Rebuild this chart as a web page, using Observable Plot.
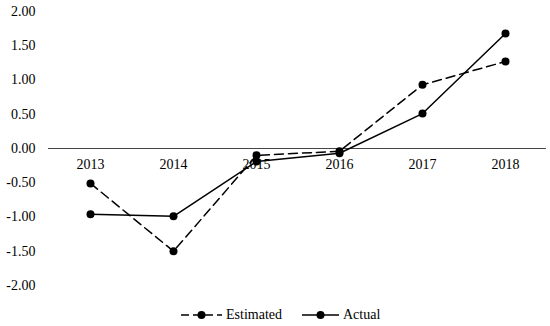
<!DOCTYPE html>
<html><head><meta charset="utf-8">
<script src="https://cdn.jsdelivr.net/npm/d3@7"></script>
<script src="https://cdn.jsdelivr.net/npm/@observablehq/plot@0.6"></script>
<style>
body{margin:0;background:#fff;font-family:'Liberation Serif','DejaVu Serif',serif;position:relative;width:550px;height:326px;}
#legend{position:absolute;left:181px;top:306px;display:flex;align-items:center;font-size:14px;height:18px;color:#000;}
#legend .item{display:flex;align-items:center;gap:4px;margin-right:20px;}
svg text{font-family:'Liberation Serif','DejaVu Serif',serif;}
</style></head>
<body>
<div id="chart"></div>
<div id="legend"></div>
<script>
const years = ["2013","2014","2015","2016","2017","2018"];
const estimated = [-0.51,-1.50,-0.10,-0.04,0.93,1.27];
const actual = [-0.96,-0.99,-0.19,-0.07,0.51,1.68];
const yTicks = [-2,-1.5,-1,-0.5,0,0.5,1,1.5,2];
const seriesNames = ["Estimated","Actual"];

const rows = [];
years.forEach((y,i)=>{
  rows.push({year:y, value:estimated[i], series:seriesNames[0]});
  rows.push({year:y, value:actual[i], series:seriesNames[1]});
});
const est = rows.filter(d=>d.series==="Estimated");
const act = rows.filter(d=>d.series==="Actual");

const chart = Plot.plot({
  width:550, height:300,
  marginLeft:48, marginRight:4, marginTop:11, marginBottom:15,
  style:{fontFamily:"'Liberation Serif','DejaVu Serif',serif", fontSize:"14px", color:"#000", background:"#fff"},
  x:{type:"point", domain:years, padding:0.5, axis:null},
  y:{domain:[-2,2], ticks:yTicks, tickFormat:d=>d.toFixed(2), tickSize:0, tickPadding:13, label:null},
  marks:[
    Plot.ruleY([0],{stroke:"#444", strokeWidth:1.2}),
    Plot.text(years,{x:d=>d, y:()=>0, dy:16, fontSize:14, fill:"#000"}),
    Plot.line(est,{x:"year", y:"value", stroke:"#000", strokeWidth:1.5, strokeDasharray:"9,5"}),
    Plot.line(act,{x:"year", y:"value", stroke:"#000", strokeWidth:1.5}),
    Plot.dot(est,{x:"year", y:"value", r:4, fill:"#000"}),
    Plot.dot(act,{x:"year", y:"value", r:4, fill:"#000"})
  ]
});
document.getElementById("chart").appendChild(chart);

const leg = document.getElementById("legend");
seriesNames.forEach((name,i)=>{
  const s = document.createElement("span");
  s.className = "item";
  const w = i===0 ? 41 : 37;
  const dash = i===0 ? 'stroke-dasharray="8,4"' : '';
  s.innerHTML = `<svg width="${w}" height="12"><line x1="0" x2="${w}" y1="6" y2="6" stroke="#000" stroke-width="1.5" ${dash}/><circle cx="${w/2}" cy="6" r="4" fill="#000"/></svg><span>${name}</span>`;
  leg.appendChild(s);
});
</script>
</body></html>
